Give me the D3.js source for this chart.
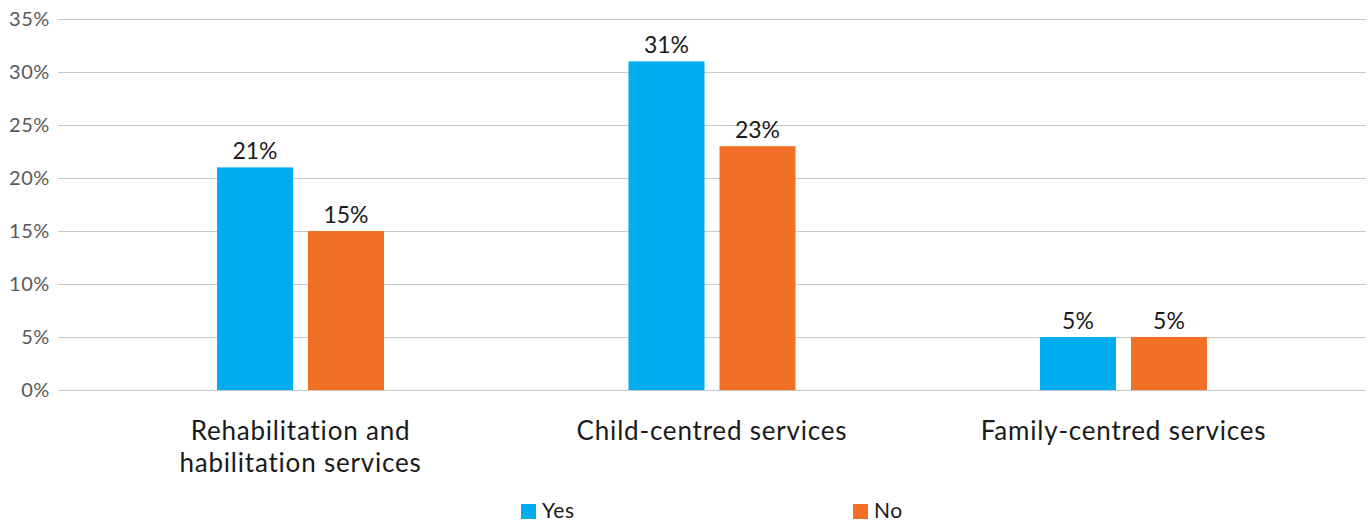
<!DOCTYPE html>
<html>
<head>
<meta charset="utf-8">
<script src="https://cdn.jsdelivr.net/npm/d3@7"></script>
<style>
  html, body { margin: 0; padding: 0; background: #fff; }
  svg { display: block; font-family: "Lato", "Open Sans", sans-serif; }
</style>
</head>
<body>
<svg id="chart" width="1370" height="522"></svg>
<script>
// Share of respondents using each service type, split by group
const categories = [["Rehabilitation and", "habilitation services"], ["Child-centred services"], ["Family-centred services"]];
const seriesNames = ["Yes", "No"];
const yesValues = [21, 31, 5];
const noValues = [15, 23, 5];
const tickValues = [0, 5, 10, 15, 20, 25, 30, 35];
const colors = ["#00AEEF", "#F26F26"];

const svg = d3.select("#chart");
const gridLeft = 58, gridRight = 1366;
const y = d3.scaleLinear().domain([0, 35]).range([390, 19]);

const catKeys = categories.map(c => c.join(" "));
const x0 = d3.scaleBand().domain(catKeys).range([94.75, 1329.25]).paddingInner(0).paddingOuter(0);
const x1 = d3.scaleBand().domain(seriesNames).range([0, 167]).paddingInner(15 / 91).paddingOuter(0);
const groupOffset = (x0.bandwidth() - 167) / 2;

// gridlines
svg.append("g")
  .selectAll("line")
  .data(tickValues)
  .join("line")
  .attr("x1", gridLeft).attr("x2", gridRight)
  .attr("y1", d => Math.round(y(d)) + 0.5).attr("y2", d => Math.round(y(d)) + 0.5)
  .attr("stroke", "#c8c8c8").attr("stroke-width", 1);

// y axis labels
const yAxis = d3.axisLeft(y).tickValues(tickValues).tickFormat(d => d + "%").tickSize(0).tickPadding(0);
const yg = svg.append("g").attr("transform", `translate(50,0)`).call(yAxis);
yg.select(".domain").remove();
yg.selectAll("text").attr("font-size", 20).attr("fill", "#595959")
  .attr("font-family", "Lato, sans-serif").attr("letter-spacing", 0.6);

const rows = categories.map((c, i) => ({ key: catKeys[i], values: [yesValues[i], noValues[i]] }));

const groups = svg.append("g").selectAll("g")
  .data(rows)
  .join("g")
  .attr("transform", d => `translate(${x0(d.key) + groupOffset},0)`);

groups.selectAll("rect")
  .data(d => d.values.map((v, j) => ({ name: seriesNames[j], v, j })))
  .join("rect")
  .attr("x", d => x1(d.name))
  .attr("width", x1.bandwidth())
  .attr("y", d => y(d.v))
  .attr("height", d => y(0) - y(d.v))
  .attr("fill", d => colors[d.j]);

groups.selectAll("text.val")
  .data(d => d.values.map((v, j) => ({ name: seriesNames[j], v, j })))
  .join("text")
  .attr("class", "val")
  .attr("x", d => x1(d.name) + x1.bandwidth() / 2)
  .attr("y", d => y(d.v) - 8)
  .attr("text-anchor", "middle")
  .attr("font-size", 23)
  .attr("fill", "#1a1a1a")
  .text(d => d.v + "%");

// category labels
const catG = svg.append("g");
categories.forEach((lines, i) => {
  const cx = x0(catKeys[i]) + x0.bandwidth() / 2;
  const t = catG.append("text")
    .attr("x", cx)
    .attr("y", 440)
    .attr("text-anchor", "middle")
    .attr("font-size", 26)
    .attr("letter-spacing", 0.8)
    .attr("fill", "#1a1a1a");
  lines.forEach((ln, k) => {
    t.append("tspan").attr("x", cx).attr("dy", k === 0 ? 0 : 32).text(ln);
  });
});

// legend
const legendX = [521, 853];
const lg = svg.append("g");
seriesNames.forEach((name, j) => {
  lg.append("rect").attr("x", legendX[j]).attr("y", 504).attr("width", 15).attr("height", 15).attr("fill", colors[j]);
  lg.append("text").attr("x", legendX[j] + 21).attr("y", 518)
    .attr("font-size", 21).attr("letter-spacing", 0.5)
    .attr("fill", "#1a1a1a").text(name);
});
</script>
</body>
</html>
